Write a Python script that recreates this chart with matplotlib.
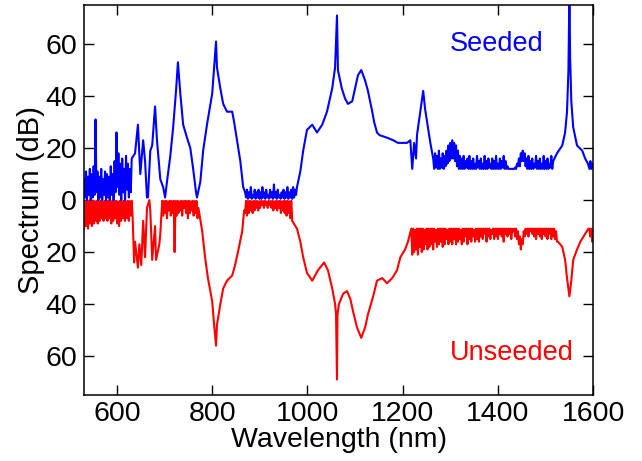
import numpy as np
import matplotlib
matplotlib.use("Agg")
import matplotlib.pyplot as plt
from matplotlib.ticker import FuncFormatter

plt.rcParams['font.family'] = ['Liberation Sans', 'DejaVu Sans']

# ---- Seeded spectrum (dB) ----
# noisy stretches: (start nm, end nm, values)
seeded_noise_a = [8, 1, 11, 0, 9, 2, 12, 0, 10, 1, 13, 2, 31, 3, 11, 0, 9, 1, 12, 0,
                  8, 2, 11, 0, 10, 1, 9, 0, 13, 2, 10, 0, 15, 3, 26, 5, 18, 2, 14, 0,
                  16, 3, 12, 0, 17, 4, 14, 1, 12, 3, 16]
seeded_noise_b = [3, 1, 4, 0.5, 3, 1, 5, 0.5, 2, 1, 4, 0.5, 3, 1, 4, 0.5, 3, 0.5, 5, 1,
                  3, 0.5, 4, 1, 2, 0.5, 4, 1, 3, 0.5, 6, 1, 3, 0.5, 4, 1, 2, 0.5, 3, 1,
                  4, 0.5, 3, 1, 5, 0.5, 3, 1, 4, 0.5, 5, 1, 4, 2]
seeded_noise_c = [16, 12, 18, 12.5, 17, 12, 19, 12, 16, 12.5,
                  18, 12, 17, 13, 19, 14, 21, 15, 22, 16,
                  23, 16, 22, 15, 21, 13, 19, 12, 17, 12,
                  16, 12, 17, 12, 15, 12.5, 16, 12, 17, 12,
                  15, 12, 16, 12, 14, 12, 17, 12.5, 15, 12,
                  16, 12, 14, 12, 17, 12, 15, 12, 16, 12.5,
                  14, 12, 16, 12, 15, 12, 17, 12, 14, 12,
                  16, 12, 15, 12.5, 17, 12, 15, 12, 13, 12,
                  12, 12, 12, 12, 12, 12, 12.5, 12, 14, 13,
                  16, 13, 18, 15, 19, 15, 18, 13, 16, 12,
                  17, 12, 15, 12, 16, 12, 14, 12.5, 17, 12,
                  15, 12, 16, 12, 14, 12, 17, 12, 15, 12,
                  16, 12, 14, 12.5, 17, 12, 15]
seeded_noise_d = [12, 15, 12, 14, 13]

# smooth stretches: wavelength / level pairs
seeded_nm_1 = [638, 644, 649, 655, 659, 663, 665, 670, 674, 680, 684, 691, 697, 701,
               705, 712, 718, 724, 728, 733, 739, 747, 754, 760, 766, 768, 775, 781,
               789, 800, 808, 810, 817, 823, 831, 842, 846, 852, 859, 865]
seeded_db_1 = [18, 29, 10, 23, 15, 1, 1, 19, 21, 36, 23, 8, 5, 1,
               7, 17, 28, 42, 53, 41, 29, 24, 20, 12, 3, 1, 7, 19,
               29, 41, 61, 51, 43, 37, 34, 34, 30, 23, 15, 5]
seeded_nm_2 = [978, 985, 991, 999, 1010, 1020, 1031, 1041, 1052, 1058, 1062, 1064,
               1072, 1079, 1085, 1094, 1100, 1106, 1113, 1121, 1127, 1136, 1140, 1146,
               1151, 1167, 1180, 1190, 1209, 1216, 1220, 1224, 1228, 1230, 1237, 1243,
               1247, 1253, 1258]
seeded_db_2 = [5, 11, 19, 27, 29, 26, 29, 34, 43, 51, 71, 50,
               43, 39, 37, 38, 43, 48, 50, 46, 42, 34, 30, 26,
               25, 24, 23, 22, 22, 23, 12, 22, 16, 25, 34, 42,
               35, 28, 22]
seeded_nm_3 = [1524, 1535, 1541, 1545, 1548, 1550, 1551.5, 1554, 1558, 1566, 1577, 1583, 1589]
seeded_db_3 = [18, 21, 26, 34, 50, 80, 55, 38, 28, 21, 19, 16, 14]

# ---- Unseeded spectrum (dB, drawn downwards) ----
unseeded_noise_a = [-11, -0.3, -10, -0.5, -11, -0.3, -9, -0.4, -10, -0.3, -9, -0.5, -8, -0.3,
                    -9, -0.4, -8, -0.3, -7, -0.5, -8, -0.3, -7, -0.4, -8, -0.3, -7, -0.5,
                    -9, -0.3, -8, -0.4, -7, -0.3, -9, -0.5, -10, -0.3, -8, -0.4, -7, -0.3,
                    -8, -0.5, -7, -0.3, -8, -0.4, -6, -0.3, -7]
unseeded_noise_b = [-0.3, -6, -0.4, -5, -0.3, -7, -0.5, -4, -0.3, -6, -0.4, -5, -0.3, -20,
                    -0.4, -6, -0.3, -5, -0.5, -4, -0.3, -6, -0.4, -3, -0.3, -5, -0.4, -7,
                    -0.3, -5, -0.5, -4, -0.3, -6, -0.4, -5, -0.3, -7, -3]
unseeded_noise_c = [-5, -0.3, -6, -0.4, -5, -0.3, -4, -0.5, -5, -0.3, -4, -0.4, -3, -0.3,
                    -4, -0.5, -3, -0.3, -2, -0.4, -3, -0.3, -2, -0.5, -3, -0.3, -2, -0.4,
                    -3, -0.3, -4, -0.5, -3, -0.3, -4, -0.4, -3, -0.3, -5, -0.5, -4, -0.3,
                    -5, -0.4, -6, -0.3, -5, -0.5, -7, -0.3, -8]
unseeded_noise_d = [-11, -21, -11, -20, -11.5, -19, -11, -21, -11, -18,
                    -11, -20, -11, -19, -11.5, -17, -11, -19, -11, -18,
                    -11, -17, -11, -19, -11, -16, -11.5, -18, -11, -17,
                    -11, -16, -11, -18, -11, -17, -11, -15, -11.5, -17,
                    -11, -16, -11, -17, -11, -15, -11, -17, -11, -16,
                    -11, -15, -11.5, -17, -11, -16, -11, -14, -11, -17,
                    -11, -15, -11, -16, -11, -14, -11.5, -16, -11, -15,
                    -11, -16, -11, -14, -11, -15, -11, -13, -11, -16,
                    -11, -14, -11, -15, -11.5, -13, -11, -15, -11, -14,
                    -11, -15, -11, -13, -11, -14, -11, -16, -11, -13,
                    -11, -14, -11, -13, -11, -15, -11, -12, -11, -14,
                    -11, -15, -12, -17, -14, -19, -15, -17, -12, -14,
                    -11, -13, -11, -14, -11, -12, -11, -13, -11, -14,
                    -11, -15, -11, -13, -11, -14, -11, -15, -11, -13,
                    -11, -14, -11, -15, -11, -13, -11, -15, -11, -14,
                    -11, -15, -12, -16]
unseeded_noise_e = [-11, -14, -11, -16, -12]

unseeded_nm_1 = [636, 638, 644, 647, 651, 655, 659, 663, 668, 670, 674, 680, 682, 689, 691]
unseeded_db_1 = [-24, -16, -26, -17, -25, -8, -22, -3, 0, -4, -23, -10, -23, -17, -13]
unseeded_nm_2 = [779, 785, 791, 800, 804, 808, 810, 817, 823, 831, 842, 848, 854, 863, 867]
unseeded_db_2 = [-12, -22, -30, -39, -48, -56, -48, -40, -34, -31, -29, -25, -20, -12, -4]
unseeded_nm_3 = [978, 985, 991, 999, 1010, 1016, 1022, 1035, 1043, 1052, 1058, 1060, 1062,
                 1063, 1066, 1075, 1083, 1090, 1096, 1104, 1113, 1121, 1127, 1138, 1146,
                 1157, 1167, 1178, 1188, 1195, 1205, 1211]
unseeded_db_3 = [-11, -16, -22, -28, -31, -29, -27, -24, -27, -34, -40, -44, -69,
                 -44, -40, -36, -35, -38, -43, -49, -53, -49, -44, -37, -31,
                 -30, -32, -30, -27, -22, -19, -16]
unseeded_nm_4 = [1526, 1535, 1541, 1545, 1550, 1554, 1558, 1566, 1573, 1583, 1590]
unseeded_db_4 = [-16, -18, -23, -30, -37, -31, -23, -19, -16, -13, -11]


def noisy(start, stop, values):
    return np.linspace(start, stop, len(values)), np.array(values, dtype=float)


seeded_parts = [
    noisy(531, 631, seeded_noise_a),
    (seeded_nm_1, seeded_db_1),
    noisy(869, 976, seeded_noise_b),
    (seeded_nm_2, seeded_db_2),
    noisy(1264, 1516, seeded_noise_c),
    (seeded_nm_3, seeded_db_3),
    noisy(1592, 1600, seeded_noise_d),
]
unseeded_parts = [
    noisy(531, 633, unseeded_noise_a),
    (unseeded_nm_1, unseeded_db_1),
    noisy(695, 771, unseeded_noise_b),
    (unseeded_nm_2, unseeded_db_2),
    noisy(869, 968, unseeded_noise_c),
    (unseeded_nm_3, unseeded_db_3),
    noisy(1218, 1524, unseeded_noise_d),
    (unseeded_nm_4, unseeded_db_4),
    noisy(1592, 1600, unseeded_noise_e),
]
x_seed = np.concatenate([np.asarray(p[0], float) for p in seeded_parts])
y_seed = np.concatenate([np.asarray(p[1], float) for p in seeded_parts])
x_unseed = np.concatenate([np.asarray(p[0], float) for p in unseeded_parts])
y_unseed = np.concatenate([np.asarray(p[1], float) for p in unseeded_parts])

fig = plt.figure(figsize=(6.42, 4.61), dpi=100)
ax = fig.add_axes([0.131, 0.143, 0.793, 0.846])

ax.plot(x_unseed, y_unseed, color='#ff0000', linewidth=1.5)
ax.plot(x_seed, y_seed, color='#0000ff', linewidth=1.5)

ax.set_xlim(531, 1600)
ax.set_ylim(-75, 75)
ax.set_xticks([600, 800, 1000, 1200, 1400, 1600])
ax.set_yticks([-60, -40, -20, 0, 20, 40, 60])
ax.yaxis.set_major_formatter(FuncFormatter(lambda v, _: f'{abs(int(v))}'))
ax.tick_params(direction='in', length=7, width=1, top=True, right=True,
               labelsize=20.5, pad=5)
ax.tick_params(axis='x', pad=4)
for s in ax.spines.values():
    s.set_linewidth(1.1)

ax.set_xlabel('Wavelength (nm)', fontsize=20.5, labelpad=0.5)
ax.set_ylabel('Spectrum (dB)', fontsize=21, labelpad=0)

ax.text(1298, 60, 'Seeded', color='#0000ff', fontsize=19.5, ha='left', va='center')
ax.text(1298, -59, 'Unseeded', color='#ff0000', fontsize=19.5, ha='left', va='center')

fig.savefig('out.png', dpi=100)
